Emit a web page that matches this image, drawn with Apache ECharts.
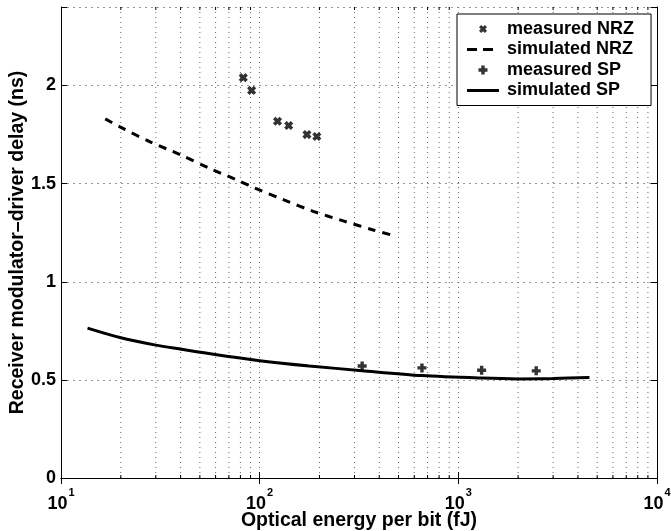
<!DOCTYPE html>
<html>
<head>
<meta charset="utf-8">
<script src="https://cdn.jsdelivr.net/npm/echarts@6/dist/echarts.min.js"></script>
<style>html,body{margin:0;padding:0;background:#fff;}#c{width:671px;height:531px;}</style>
</head>
<body>
<div id="c"></div>
<script>
// ---- data ----
const measuredNRZ_x = [82.7, 91.1, 123, 140, 173, 194];
const measuredNRZ_y = [2.04, 1.975, 1.818, 1.796, 1.75, 1.74];
const simulatedNRZ_x = [16.7, 19.8, 28.1, 39.7, 56.2, 79.6, 92.9, 131.5, 186, 263.6, 373, 470];
const simulatedNRZ_y = [1.83, 1.789, 1.713, 1.648, 1.577, 1.512, 1.481, 1.418, 1.359, 1.31, 1.264, 1.236];
const measuredSP_x = [328, 656, 1310, 2466];
const measuredSP_y = [0.571, 0.561, 0.549, 0.546];
const simulatedSP_x = [13.6, 19.8, 30, 39.7, 59.6, 100, 177.7, 328, 656, 1310, 1980, 3000, 4570];
const simulatedSP_y = [0.764, 0.716, 0.677, 0.657, 0.629, 0.598, 0.571, 0.547, 0.522, 0.509, 0.505, 0.507, 0.512];
const seriesNames = ['measured NRZ', 'simulated NRZ', 'measured SP', 'simulated SP'];
const xMin = 10, xMax = 10000;
const yMin = 0, yMax = 2.4, yStep = 0.5;
const minorX = [20,30,40,50,60,70,80,90,200,300,400,500,600,700,800,900,2000,3000,4000,5000,6000,7000,8000,9000];
const xTitle = 'Optical energy per bit (fJ)';
const yTitle = 'Receiver modulator\u2013driver delay (ns)';

const zip = (a, b) => a.map((v, i) => [v, b[i]]);
const FONT = 'Liberation Sans, Arial, Helvetica, sans-serif';
const xMark = 'path://M0,0M14,14M3,5.2L5.2,3L7,4.8L8.8,3L11,5.2L9.2,7L11,8.8L8.8,11L7,9.2L5.2,11L3,8.8L4.8,7Z';
const plusMark = 'path://M0,0M14,14M5.3,2.5H8.7V5.3H11.5V8.7H8.7V11.5H5.3V8.7H2.5V5.3H5.3Z';
const solidIcon = 'path://M0,0M32,14M0,5.5H32V8.5H0Z';
const dashedIcon = 'path://M0,0M32,14M0,5.5H10V8.5H0ZM16,5.5H26V8.5H16Z';
const vGridStyle = { color: '#666', width: 1, type: [1, 4] };
const hGridStyle = { color: '#999', width: 1, type: [2, 4] };

const chart = echarts.init(document.getElementById('c'), null, { renderer: 'canvas' });
chart.setOption({
  animation: false,
  backgroundColor: '#fff',
  grid: { left: 61, right: 14, top: 7, bottom: 53, containLabel: false, outerBoundsMode: 'none' },
  legend: {
    data: [
      { name: seriesNames[0] },
      { name: seriesNames[1], icon: dashedIcon },
      { name: seriesNames[2] },
      { name: seriesNames[3], icon: solidIcon }
    ],
    orient: 'vertical',
    left: 457, top: 14,
    padding: [6, 17, 6, 10],
    itemWidth: 32, itemHeight: 14, itemGap: 2.5,
    borderColor: '#000', borderWidth: 1, backgroundColor: '#fff',
    textStyle: { fontFamily: FONT, fontWeight: 'bold', fontSize: 18, color: '#000', padding: [0, 0, 0, 3] }
  },
  xAxis: [{
    type: 'log', logBase: 10, min: xMin, max: xMax, position: 'bottom',
    name: xTitle, nameLocation: 'middle', nameGap: 32.5, nameMoveOverlap: false,
    nameTextStyle: { fontFamily: FONT, fontWeight: 'bold', fontSize: 19.5, color: '#000' },
    axisLine: { show: true, lineStyle: { color: '#000', width: 1 } },
    axisTick: { show: true, inside: true, length: 6, lineStyle: { color: '#000' } },
    splitLine: { show: true, lineStyle: vGridStyle },
    axisLabel: {
      margin: 9,
      formatter: v => '{b|10}{s|' + Math.round(Math.log10(v)) + '}',
      rich: {
        b: { fontFamily: FONT, fontWeight: 'bold', fontSize: 18, color: '#000', padding: [8, 0, 0, 0] },
        s: { fontFamily: FONT, fontWeight: 'bold', fontSize: 11, color: '#000', verticalAlign: 'top', padding: [0, 0, 0, 1] }
      }
    }
  }, {
    type: 'log', logBase: 10, min: xMin, max: xMax, position: 'top',
    axisLine: { show: true, lineStyle: { color: '#000', width: 1 } },
    axisTick: { show: true, inside: true, length: 6, lineStyle: { color: '#000' } },
    axisLabel: { show: false }, splitLine: { show: false }
  }],
  yAxis: [{
    type: 'value', min: yMin, max: yMax, interval: yStep, position: 'left',
    name: yTitle, nameLocation: 'middle', nameGap: 33, nameMoveOverlap: false,
    nameTextStyle: { fontFamily: FONT, fontWeight: 'bold', fontSize: 19.5, color: '#000' },
    axisLine: { show: true, lineStyle: { color: '#000', width: 1 } },
    axisTick: { show: true, inside: true, length: 6, lineStyle: { color: '#000' } },
    splitLine: { show: true, lineStyle: hGridStyle },
    axisLabel: {
      margin: 5, fontFamily: FONT, fontWeight: 'bold', fontSize: 18, color: '#000',
      formatter: v => (Math.abs(v / yStep - Math.round(v / yStep)) < 1e-6 ? String(v) : '')
    }
  }, {
    type: 'value', min: yMin, max: yMax, interval: yStep, position: 'right',
    axisLine: { show: true, lineStyle: { color: '#000', width: 1 } },
    axisTick: { show: true, inside: true, length: 6, lineStyle: { color: '#000' } },
    axisLabel: { show: false }, splitLine: { show: false }
  }],
  series: [
    {
      name: 'minor', type: 'custom', silent: true, xAxisIndex: 0, yAxisIndex: 0, z: 1,
      data: minorX.map(v => [v, yMin]),
      renderItem: (params, api) => {
        const v = api.value(0);
        const p0 = api.coord([v, yMin]);
        const p1 = api.coord([v, yMax]);
        return {
          type: 'group',
          children: [
            { type: 'line', shape: { x1: p0[0], y1: p0[1], x2: p1[0], y2: p1[1] }, style: { stroke: '#666', lineWidth: 1, lineDash: [1, 4] } },
            { type: 'line', shape: { x1: p0[0], y1: p0[1], x2: p0[0], y2: p0[1] - 3 }, style: { stroke: '#000', lineWidth: 1 } },
            { type: 'line', shape: { x1: p1[0], y1: p1[1], x2: p1[0], y2: p1[1] + 3 }, style: { stroke: '#000', lineWidth: 1 } }
          ]
        };
      }
    },
    {
      name: seriesNames[0], type: 'scatter', data: zip(measuredNRZ_x, measuredNRZ_y),
      symbol: xMark, symbolSize: 16, itemStyle: { color: '#000' }, z: 5
    },
    {
      name: seriesNames[1], type: 'line', data: zip(simulatedNRZ_x, simulatedNRZ_y),
      showSymbol: false, symbol: 'none', smooth: 0.3,
      lineStyle: { color: '#000', width: 3, type: [8, 7] }, itemStyle: { color: '#000' }, z: 4
    },
    {
      name: seriesNames[2], type: 'scatter', data: zip(measuredSP_x, measuredSP_y),
      symbol: plusMark, symbolSize: 14, itemStyle: { color: '#000' }, z: 5
    },
    {
      name: seriesNames[3], type: 'line', data: zip(simulatedSP_x, simulatedSP_y),
      showSymbol: false, symbol: 'none', smooth: 0.3,
      lineStyle: { color: '#000', width: 3 }, itemStyle: { color: '#000' }, z: 4
    }
  ]
});
</script>
</body>
</html>
